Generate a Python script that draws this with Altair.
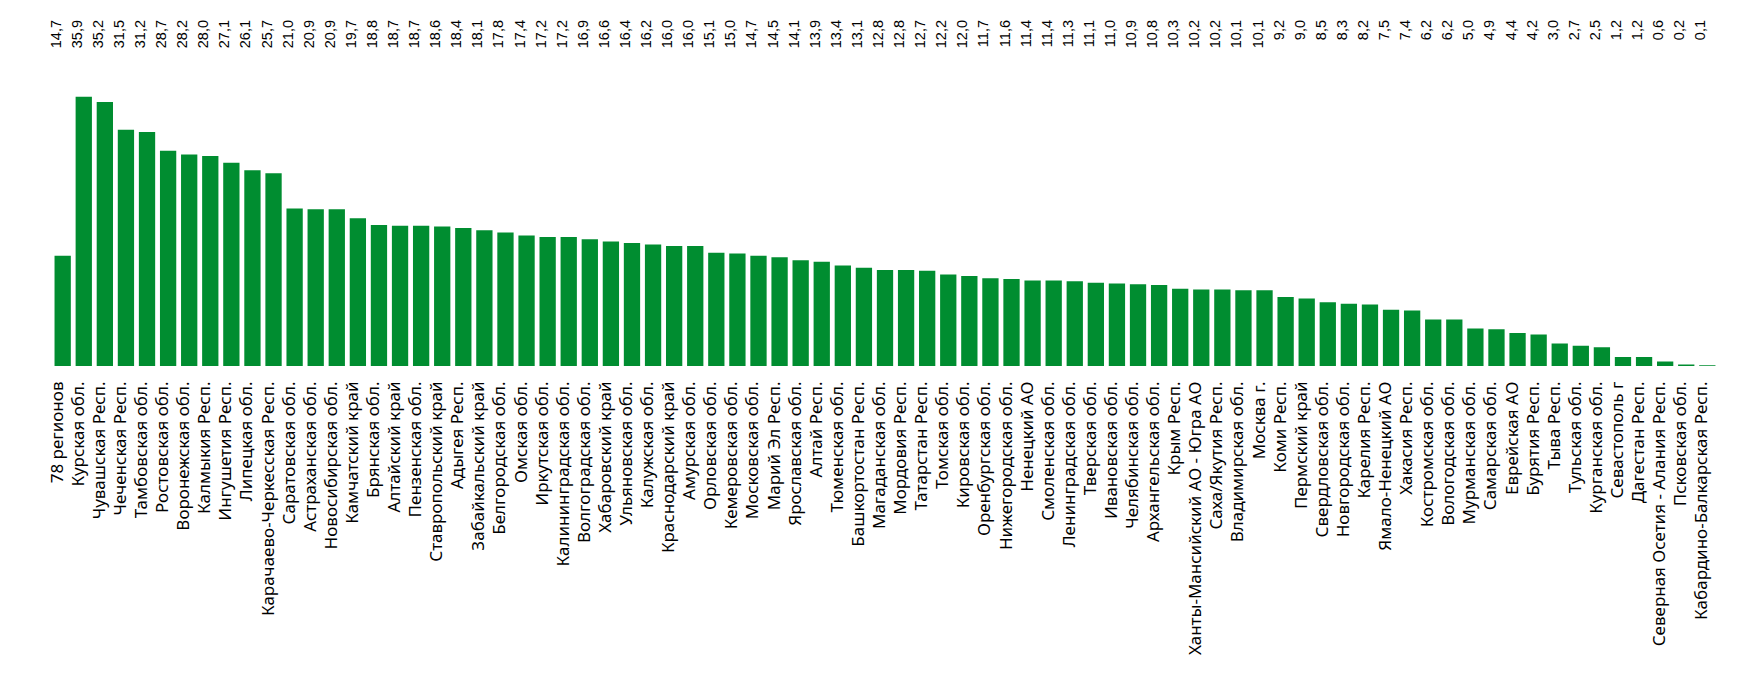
import altair as alt
import pandas as pd

regions = [
    "78 регионов", "Курская обл.", "Чувашская Респ.", "Чеченская Респ.", "Тамбовская обл.",
    "Ростовская обл.", "Воронежская обл.", "Калмыкия Респ.", "Ингушетия Респ.", "Липецкая обл.",
    "Карачаево-Черкесская Респ.", "Саратовская обл.", "Астраханская обл.", "Новосибирская обл.",
    "Камчатский край", "Брянская обл.", "Алтайский край", "Пензенская обл.", "Ставропольский край",
    "Адыгея Респ.", "Забайкальский край", "Белгородская обл.", "Омская обл.", "Иркутская обл.",
    "Калининградская обл.", "Волгоградская обл.", "Хабаровский край", "Ульяновская обл.",
    "Калужская обл.", "Краснодарский край", "Амурская обл.", "Орловская обл.", "Кемеровская обл.",
    "Московская обл.", "Марий Эл Респ.", "Ярославская обл.", "Алтай Респ.", "Тюменская обл.",
    "Башкортостан Респ.", "Магаданская обл.", "Мордовия Респ.", "Татарстан Респ.", "Томская обл.",
    "Кировская обл.", "Оренбургская обл.", "Нижегородская обл.", "Ненецкий АО", "Смоленская обл.",
    "Ленинградская обл.", "Тверская обл.", "Ивановская обл.", "Челябинская обл.",
    "Архангельская обл.", "Крым Респ.", "Ханты-Мансийский АО - Югра АО", "Саха/Якутия Респ.",
    "Владимирская обл.", "Москва г.", "Коми Респ.", "Пермский край", "Свердловская обл.",
    "Новгородская обл.", "Карелия Респ.", "Ямало-Ненецкий АО", "Хакасия Респ.",
    "Костромская обл.", "Вологодская обл.", "Мурманская обл.", "Самарская обл.", "Еврейская АО",
    "Бурятия Респ.", "Тыва Респ.", "Тульская обл.", "Курганская обл.", "Севастополь г",
    "Дагестан Респ.", "Северная Осетия - Алания Респ.", "Псковская обл.",
    "Кабардино-Балкарская Респ.",
]

values = [
    14.7, 35.9, 35.2, 31.5, 31.2, 28.7, 28.2, 28.0, 27.1, 26.1,
    25.7, 21.0, 20.9, 20.9, 19.7, 18.8, 18.7, 18.7, 18.6, 18.4,
    18.1, 17.8, 17.4, 17.2, 17.2, 16.9, 16.6, 16.4, 16.2, 16.0,
    16.0, 15.1, 15.0, 14.7, 14.5, 14.1, 13.9, 13.4, 13.1, 12.8,
    12.8, 12.7, 12.2, 12.0, 11.7, 11.6, 11.4, 11.4, 11.3, 11.1,
    11.0, 10.9, 10.8, 10.3, 10.2, 10.2, 10.1, 10.1, 9.2, 9.0,
    8.5, 8.3, 8.2, 7.5, 7.4, 6.2, 6.2, 5.0, 4.9, 4.4,
    4.2, 3.0, 2.7, 2.5, 1.2, 1.2, 0.6, 0.2, 0.1,
]

Y_MAX = 46.13

df = pd.DataFrame({"region": regions, "value": values})

x = alt.X(
    "region:N",
    sort=None,
    title=None,
    scale=alt.Scale(paddingInner=0.227, paddingOuter=0.12),
    axis=alt.Axis(
        labelAngle=-90,
        labelBaseline="alphabetic",
        labelAlign="right",
        labelFont="Noto Sans",
        labelFontSize=17,
        labelColor="#000000",
        labelPadding=15,
        labelLimit=400,
        labelOverlap=False,
        ticks=False,
        domain=False,
        grid=False,
    ),
)

yscale = alt.Scale(domain=[0, Y_MAX], nice=False, zero=True)

base = alt.Chart(df).encode(x=x)

bars = base.mark_bar(color="#008D30").encode(
    y=alt.Y("value:Q", scale=yscale, axis=None)
)

labels = base.transform_calculate(
    lbl="replace(format(datum.value, '.1f'), '.', ',')",
    top=str(Y_MAX),
).mark_text(
    angle=270,
    align="right",
    baseline="alphabetic",
    font="Liberation Sans",
    fontSize=14.5,
    color="#000000",
    dy=-2,
).encode(y=alt.Y("top:Q", scale=yscale, axis=None), text="lbl:N")

chart = (
    alt.layer(bars, labels)
    .properties(width=1666, height=346, padding={"left": 40, "top": 12, "right": 5, "bottom": 5})
    .configure_view(strokeWidth=0)
)

chart.save("out.html", embed_options={"renderer": "svg", "actions": False})
